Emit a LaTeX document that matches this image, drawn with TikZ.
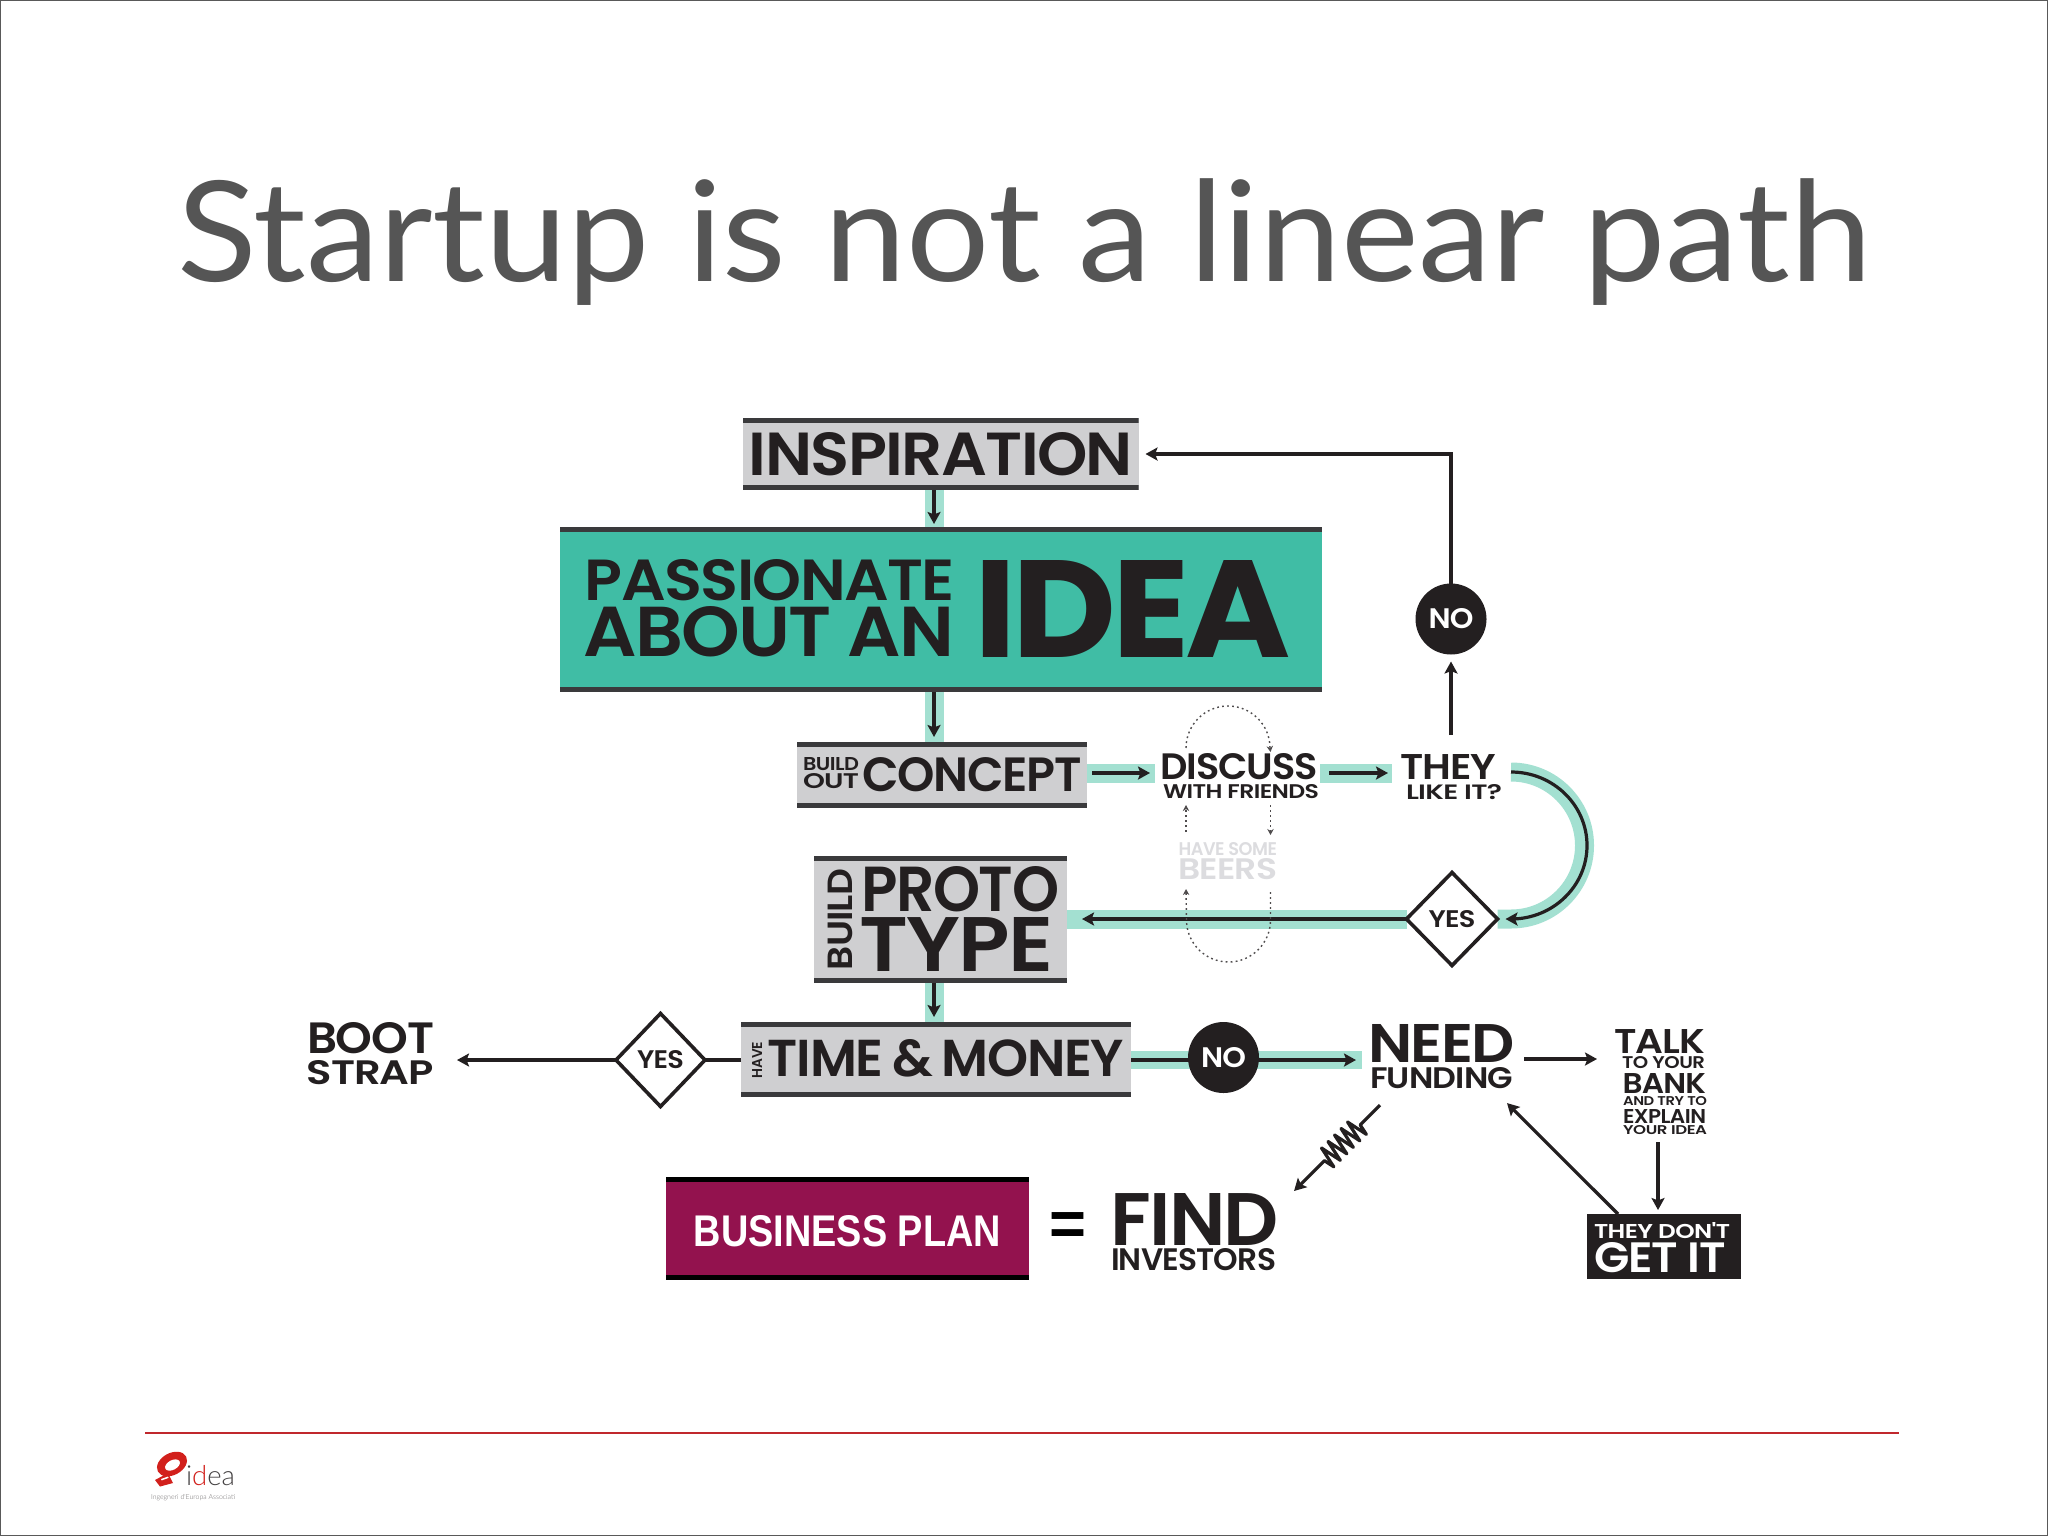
\documentclass[tikz,border=0pt]{standalone}
\usepackage{graphicx}
\usepackage{fontspec}
\usetikzlibrary{arrows.meta,shapes.geometric,decorations.pathmorphing,calc}
\newfontfamily\gfont{Poppins}[UprightFont=*-SemiBold,LetterSpace=-2.5]
\newfontfamily\xfont{Poppins}[UprightFont=*-Bold,LetterSpace=-3]
\newfontfamily\afont{Liberation Sans}
\newfontfamily\tfont{Lato}
\newfontfamily\lfont{Lato Light}
\definecolor{ink}{HTML}{231F20}
\definecolor{titlegrey}{HTML}{555555}
\definecolor{greybox}{HTML}{CFCFD1}
\definecolor{greybar}{HTML}{3A3A3C}
\definecolor{tealbox}{HTML}{40BDA5}
\definecolor{bandc}{HTML}{A3E0D1}
\definecolor{plum}{HTML}{93124E}
\definecolor{beer}{HTML}{DCDCDF}
\definecolor{rulered}{HTML}{C0282D}
\definecolor{logored}{HTML}{D2201C}
\pgfdeclarelayer{bg}
\pgfsetlayers{bg,main}
\newcommand\Lab[7][]{%
  \pgfmathsetmacro\lw{(#5-#3)*0.5}%
  \pgfmathsetmacro\lh{(#6-#4)*0.5}%
  \node[txt,#1] (#2) at ({(#3+#5)/2},{(#4+#6)/2}) {\resizebox{\lw pt}{\lh pt}{\gfont #7}};}
\tikzset{
  x=0.5pt,y=-0.5pt,
  txt/.style={inner sep=0pt,outer sep=0pt,text=ink},
  barbox/.style={inner sep=0pt,outer sep=0pt,fill=#1,
    path picture={
      \fill[greybar] (path picture bounding box.north west) rectangle ([yshift=-2.3pt]path picture bounding box.north east);
      \fill[greybar] (path picture bounding box.south west) rectangle ([yshift=2.3pt]path picture bounding box.south east);}},
  arr/.style={draw=ink,line width=1.6pt,-{Stealth[length=6pt,width=6.5pt,inset=1.2pt]}},
  plain/.style={draw=ink,line width=1.6pt},
  band/.style={draw=bandc,line width=9.5pt},
  dia/.style={shape=diamond,draw=ink,line width=1.8pt,fill=white,inner sep=0pt,outer sep=0pt},
  blackdot/.style={shape=circle,fill=ink,inner sep=0pt,outer sep=0pt,text=white},
  dots/.style={draw=ink!80,line width=0.7pt,dash pattern=on 0.9pt off 1.6pt},
  dotarr/.style={dots,-{Stealth[length=3pt,width=3.2pt]}},
}
\begin{document}
\begin{tikzpicture}
\useasboundingbox (0,0) rectangle (2048,1536);
\begin{pgfonlayer}{bg}
  \fill[white] (0,0) rectangle (2048,1536);
\end{pgfonlayer}
\draw[gray!70!black,line width=0.7pt] (0.7,0.7) rectangle (2047.3,1535.3);

% title
\node[txt,anchor=base west,text=titlegrey] (title) at (177,281) {\scalebox{1}[0.95]{\resizebox{847pt}{!}{\tfont Startup is not a linear path}}};

% guides
\coordinate (axis) at (934,0);
\coordinate (rowA) at (0,773);
\coordinate (rowN) at (0,1060);
\coordinate (curveA) at (1511,772);

% boxes
\node[barbox=greybox,minimum width=198pt,minimum height=36pt] (insp) at (940.5,454) {};
\Lab{insptxt}{749}{433}{1133}{476}{INSPIRATION}
\node[barbox=tealbox,minimum width=381pt,minimum height=82.5pt] (idea) at (941,609.5) {};
\Lab{pass}{585}{560}{955}{601}{PASSIONATE}
\Lab{about}{584}{607}{954}{657}{ABOUT AN}
\node[txt] (ideatxt) at (1132.5,608.5) {\resizebox{158pt}{48.5pt}{\xfont IDEA}};
\node[barbox=greybox,minimum width=145pt,minimum height=33pt] (concept) at (942,775) {};
\Lab{bld}{803}{758}{859}{771}{BUILD}
\Lab{out}{803}{774}{859}{789}{OUT}
\Lab{concepttxt}{862}{758}{1082}{792}{CONCEPT}
\Lab{discuss}{1160}{754}{1318}{780}{DISCUSS}
\Lab{friends}{1163}{785}{1319}{799}{WITH FRIENDS}
\Lab{they}{1400}{754}{1496}{779}{THEY}
\Lab{likeit}{1406}{785}{1502}{800}{LIKE IT?}
\Lab[text=beer]{have}{1178.5}{843}{1277}{856}{HAVE SOME}
\Lab[text=beer]{beers}{1178.5}{859}{1277}{880}{BEERS}
\node[barbox=greybox,minimum width=126.5pt,minimum height=63.5pt] (proto) at (940.5,919.5) {};
\node[txt,rotate=90] (bldv) at (840,919.5) {\resizebox{50.5pt}{12.2pt}{\gfont BUILD}};
\Lab{prototxt}{861.5}{867}{1059}{912}{PROTO}
\Lab{type}{860}{917}{1053}{971}{TYPE}
\node[barbox=greybox,minimum width=195pt,minimum height=37.5pt] (time) at (936,1059.5) {};
\node[txt,rotate=90] (havev) at (757,1060) {\resizebox{18pt}{5pt}{\gfont HAVE}};
\Lab{timetxt}{768}{1040}{1124}{1077}{TIME\,\&\,MONEY}
\node[dia,minimum width=45.5pt,minimum height=46.5pt] (yesb) at (1452,919) {\resizebox{23.5pt}{8.5pt}{\gfont\color{ink}YES}};
\node[dia,minimum width=44.5pt,minimum height=46.5pt] (yesl) at (660.5,1060) {\resizebox{23.5pt}{9pt}{\gfont\color{ink}YES}};
\Lab{boot}{307}{1023}{434}{1054}{BOOT}
\Lab{strap}{307}{1061}{434}{1085}{STRAP}
\node[blackdot,minimum size=35.5pt] (notop) at (1451,619) {\resizebox{22.5pt}{10pt}{\gfont NO}};
\node[blackdot,minimum size=35.5pt] (nomid) at (1223.5,1057.5) {\resizebox{22.5pt}{10pt}{\gfont NO}};
\Lab{need}{1368}{1024}{1515}{1062}{NEED}
\Lab{funding}{1370}{1068}{1513}{1089}{FUNDING}
\Lab{talk}{1614}{1029}{1705}{1053}{TALK}
\Lab{toyour}{1622}{1057}{1705}{1069}{TO YOUR}
\Lab{bank}{1622.5}{1073}{1706}{1093}{BANK}
\Lab{andtry}{1623}{1097}{1707}{1106}{AND TRY TO}
\Lab{explain}{1623}{1109}{1706}{1123}{EXPLAIN}
\Lab{youridea}{1623}{1126}{1707}{1135}{YOUR IDEA}
\node[inner sep=0pt,outer sep=0pt,fill=ink,minimum width=77pt,minimum height=32.5pt] (dont) at (1663.5,1246.5) {};
\Lab[text=white]{donttxt}{1594}{1223}{1730}{1239}{THEY DON'T}
\Lab[text=white]{getit}{1594}{1243}{1726}{1273}{GET IT}
\Lab{find}{1111}{1193}{1279}{1245}{FIND}
\Lab{investors}{1111}{1249}{1276}{1271}{INVESTORS}
\node[inner sep=0pt,outer sep=0pt,fill=plum,minimum width=181.5pt,minimum height=51.5pt,
  path picture={
    \fill[black] (path picture bounding box.north west) rectangle ([yshift=-2.6pt]path picture bounding box.north east);
    \fill[black] (path picture bounding box.south west) rectangle ([yshift=2.6pt]path picture bounding box.south east);}] (plan) at (847.5,1228.5) {};
\node[txt,text=white] (plantxt) at (847.5,1231.5) {\resizebox{153.5pt}{15.5pt}{\afont\bfseries BUSINESS PLAN}};
\node[txt,text=black] (equals) at (1067.5,1229.5) {\resizebox{18.5pt}{!}{\afont\bfseries =}};

% teal bands and the line running behind the NO disc
\begin{pgfonlayer}{bg}
  \draw[band] (insp.south -| axis) -- (idea.north -| axis);
  \draw[band] (idea.south -| axis) -- (concept.north -| axis);
  \draw[band] (concept.east |- rowA) -- ([xshift=-2.5pt]discuss.west |- rowA);
  \draw[band] ([xshift=1pt]discuss.east |- rowA) -- ([xshift=-4pt]they.west |- rowA);
  \draw[band] (curveA) arc[start angle=90,end angle=-90,radius=36.75pt] -- (yesb.east);
  \draw[band] (yesb.west) -- (proto.east |- yesb.west);
  \draw[band] (proto.south -| axis) -- (time.north -| axis);
  \draw[band,line width=9pt] (time.east |- rowN) -- ([xshift=-3pt]need.west |- rowN);
  \draw[arr,shorten >=6pt] (time.east |- rowN) -- (need.west |- rowN);
\end{pgfonlayer}

% connectors
\draw[arr,shorten >=1.5pt] (insp.south -| axis) -- (idea.north -| axis);
\draw[arr,shorten >=2.5pt] (idea.south -| axis) -- (concept.north -| axis);
\draw[arr,shorten <=2.5pt,shorten >=5pt] (concept.east |- rowA) -- (discuss.west |- rowA);
\draw[arr,shorten <=5.5pt,shorten >=6pt] (discuss.east |- rowA) -- (they.west |- rowA);
\draw[arr,shorten <=9.5pt,shorten >=3.5pt] (they.north -| notop.south) -- (notop.south);
\draw[arr,shorten >=3.5pt] (notop.north) |- (insp.east);
\draw[arr] (curveA) arc[start angle=90,end angle=-90,x radius=38pt,y radius=36.75pt] -- ([xshift=4pt]yesb.east);
\draw[arr,shorten >=7.5pt] (yesb.west) -- (proto.east |- yesb.west);
\draw[arr,shorten >=2.5pt] (proto.south -| axis) -- (time.north -| axis);
\draw[plain] (time.west |- yesl.east) -- (yesl.east);
\draw[arr,shorten >=11.5pt] (yesl.west) -- (boot.east |- yesl.west);
\draw[arr,shorten <=4.5pt,shorten >=8.5pt] (need.east |- 0,1059) -- (talk.west |- 0,1059);
\draw[arr,shorten <=3.5pt,shorten >=2pt] (youridea.south -| 1658,0) -- (dont.north -| 1658,0);
\draw[arr] ([xshift=-22.75pt]dont.north) -- ([shift={(-3pt,-7pt)}]funding.south east);
\draw[arr,line join=round,decoration={zigzag,segment length=4.6pt,amplitude=5.5pt,pre length=14pt,post length=20pt},decorate]
  ([shift={(5pt,-8pt)}]funding.south west) -- ([shift={(7.5pt,1pt)}]find.north east);

% dotted beer loop
\draw[dotarr] (1186,748) arc[start angle=180,end angle=0,radius=21pt] -- (1270.5,752);
\draw[dotarr] (1186,832) -- (1186,805);
\draw[dotarr] (1270.5,805) -- (1270.5,835);
\draw[dotarr] (1270.5,892) -- (1270.5,920) arc[start angle=0,end angle=-180,radius=21pt] -- (1186,889);

% footer
\draw[rulered,line width=0.9pt] (145,1433) -- (1899,1433);
\fill[logored] (172,1464) ellipse[x radius=8pt,y radius=5.5pt,rotate=28];
\fill[white] (172.5,1465) ellipse[x radius=4pt,y radius=2.4pt,rotate=28];
\fill[logored] (155,1480) -- (168,1473) -- (173,1483) -- (160,1486.5) -- cycle;
\fill[white] (161,1479) -- (168,1476.5) -- (168.6,1477.9) -- (161.6,1480.4) -- cycle;
\node[txt,anchor=base west,text=ink!85] (logotxt) at (186,1485) {\resizebox{24.5pt}{!}{\lfont i\textcolor{logored}{d}ea}};
\node[txt,text=ink!65] (logosub) at (193,1498) {\resizebox{42pt}{!}{\lfont Ingegneri d'Europa Associati}};
\end{tikzpicture}
\end{document}
